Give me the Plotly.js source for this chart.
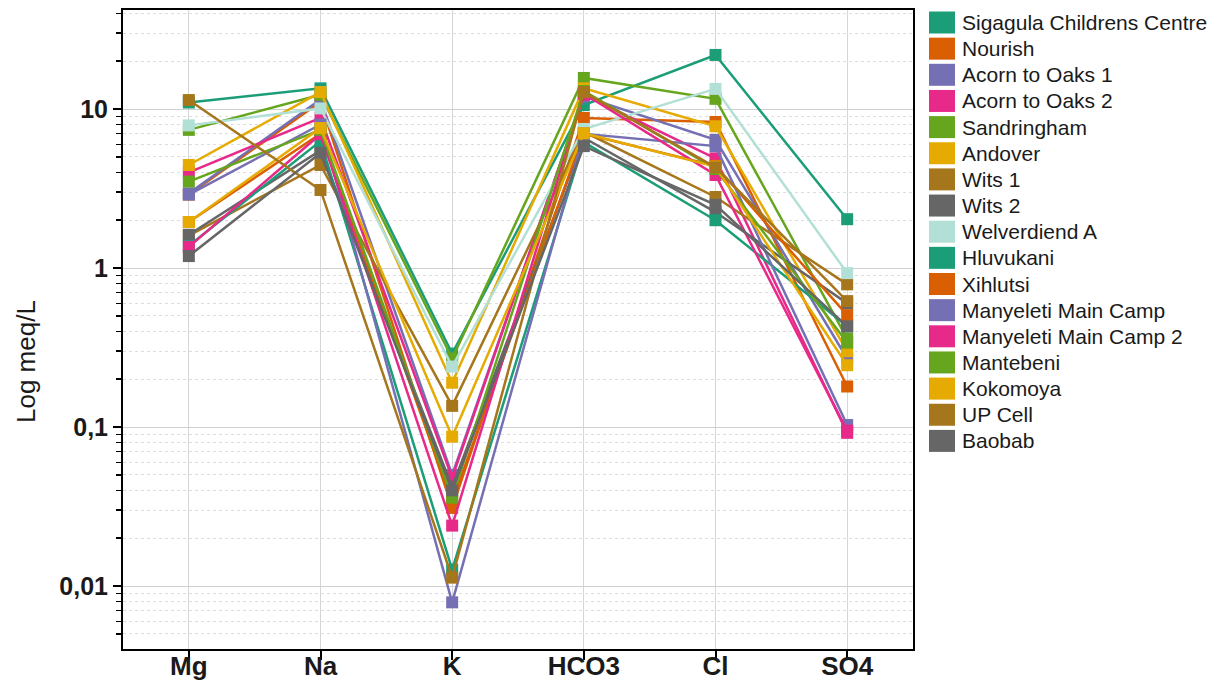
<!DOCTYPE html>
<html><head><meta charset="utf-8">
<script src="https://cdn.plot.ly/plotly-3.0.1.min.js"></script>
<style>html,body{margin:0;padding:0;background:#fff}#chart{width:1220px;height:697px}</style>
</head><body><div id="chart"></div>
<script>
// Categories (ions) on the x axis
const categories = ['Mg', 'Na', 'K', 'HCO3', 'Cl', 'SO4'];

// Sample sites (legend order)
const siteNames = ['Sigagula Childrens Centre', 'Nourish', 'Acorn to Oaks 1', 'Acorn to Oaks 2',
  'Sandringham', 'Andover', 'Wits 1', 'Wits 2', 'Welverdiend A', 'Hluvukani', 'Xihlutsi',
  'Manyeleti Main Camp', 'Manyeleti Main Camp 2', 'Mantebeni', 'Kokomoya', 'UP Cell', 'Baobab'];

const siteColors = ['#1b9e77', '#d95f02', '#7570b3', '#e7298a', '#66a61e', '#e6ab02', '#a6761d', '#666666',
  '#b3e0d6', '#1b9e77', '#d95f02', '#7570b3', '#e7298a', '#66a61e', '#e6ab02', '#a6761d', '#666666'];

// Concentrations (meq/L), one value per site, per ion
const mgValues   = [11.0, 2.9, 2.95, 4.0, 7.4, 4.45, 1.6, 1.62, 7.9, 1.38, 1.95, 2.9, 1.36, 3.5, 1.95, 11.4, 1.19];
const naValues   = [13.5, 11.1, 11.5, 8.8, 12.3, 12.8, 4.45, 5.5, 10.1, 6.3, 7.0, 8.0, 6.95, 7.4, 7.6, 3.1, 5.3];
const kValues    = [0.29, 0.031, 0.05, 0.048, 0.27, 0.19, 0.136, 0.042, 0.24, 0.0127, 0.034, 0.0079, 0.024, 0.036, 0.087, 0.0113, 0.04];
const hco3Values = [10.6, 8.8, 12.0, 12.3, 15.7, 13.5, 7.2, 6.6, 7.5, 6.2, 7.0, 7.0, 12.5, 13.0, 7.05, 12.8, 5.85];
const clValues   = [21.9, 8.3, 6.4, 4.9, 11.6, 7.8, 2.8, 2.25, 13.4, 2.0, 4.4, 5.85, 3.85, 4.2, 4.35, 4.3, 2.5];
const so4Values  = [2.03, 0.18, 0.27, 0.092, 0.36, 0.3, 0.79, 0.6, 0.93, 0.43, 0.506, 0.103, 0.095, 0.34, 0.245, 0.62, 0.43];

// Y tick labels (comma decimal)
const yTickValues = [0.01, 0.1, 1, 10];
const yTickLabels = ['0,01', '0,1', '1', '10'];
const yTitle = 'Log meq/L';

const ionColumns = [mgValues, naValues, kValues, hco3Values, clValues, so4Values];

const traces = siteNames.map((name, i) => ({
  type: 'scatter',
  mode: 'lines+markers',
  name: name,
  x: categories,
  y: ionColumns.map(col => col[i]),
  line: {color: siteColors[i], width: 2.5},
  marker: {color: siteColors[i], symbol: 'square', size: 12},
  showlegend: false,
  hoverinfo: 'name+y'
}));

// minor ticks 2..9 per decade
const minorVals = [];
for (let e = -3; e <= 1; e++) for (let m = 2; m <= 9; m++) minorVals.push(m * Math.pow(10, e));

// plot area geometry in pixels
const W = 1220, H = 697, L = 123, R = 913, T = 10, B = 649;
const px2x = p => (p - L) / (R - L);
const px2y = p => (B - p) / (B - T);
const FONT = 'Liberation Sans, Arial, sans-serif';

// custom legend (swatch + text), laid out from the site list
const shapes = [], annotations = [];
const legTop = 22.5, legStep = 26.15;
siteNames.forEach((name, i) => {
  const cy = legTop + i * legStep;
  shapes.push({type: 'rect', xref: 'paper', yref: 'paper',
    x0: px2x(929), x1: px2x(955), y0: px2y(cy + 11), y1: px2y(cy - 11),
    fillcolor: siteColors[i], line: {width: 0}});
  annotations.push({xref: 'paper', yref: 'paper', x: px2x(960), y: px2y(cy),
    xanchor: 'left', yanchor: 'middle', showarrow: false, text: name,
    font: {family: FONT, size: 21, color: '#1a1a1a'}});
});
// y axis title
annotations.push({xref: 'paper', yref: 'paper', x: px2x(26), y: px2y(362),
  xanchor: 'center', yanchor: 'middle', showarrow: false, textangle: -90, text: yTitle,
  font: {family: FONT, size: 26, color: '#1a1a1a'}});

const layout = {
  width: W, height: H,
  margin: {l: L, r: W - R, t: T, b: H - B},
  paper_bgcolor: '#fff', plot_bgcolor: '#fff',
  showlegend: false,
  font: {family: FONT, color: '#1a1a1a'},
  xaxis: {
    type: 'category', range: [-0.5, 5.5],
    showline: true, linecolor: '#000', linewidth: 2, mirror: true,
    ticks: 'outside', ticklen: 9, tickwidth: 2, tickcolor: '#000',
    ticklabelstandoff: -16,
    showgrid: true, gridcolor: '#d6d6d6', gridwidth: 1,
    tickfont: {family: FONT, size: 26, color: '#1a1a1a', weight: 'bold'},
    zeroline: false
  },
  yaxis: {
    type: 'log', range: [Math.log10(0.00402), Math.log10(42)],
    showline: true, linecolor: '#000', linewidth: 2, mirror: true,
    ticks: 'outside', ticklen: 8, tickwidth: 2, tickcolor: '#000',
    tickmode: 'array', tickvals: yTickValues, ticktext: yTickLabels,
    showgrid: true, gridcolor: '#cfcfcf', gridwidth: 1,
    tickfont: {family: FONT, size: 25, color: '#1a1a1a', weight: 'bold'},
    minor: {tickmode: 'array', tickvals: minorVals, ticks: 'outside', ticklen: 5, tickwidth: 1.5, tickcolor: '#000',
      showgrid: true, gridcolor: '#dedede', gridwidth: 1, griddash: 'dot'},
    zeroline: false
  },
  shapes: shapes,
  annotations: annotations
};

Plotly.newPlot('chart', traces, layout, {displayModeBar: false, staticPlot: true});
</script>
</body></html>
